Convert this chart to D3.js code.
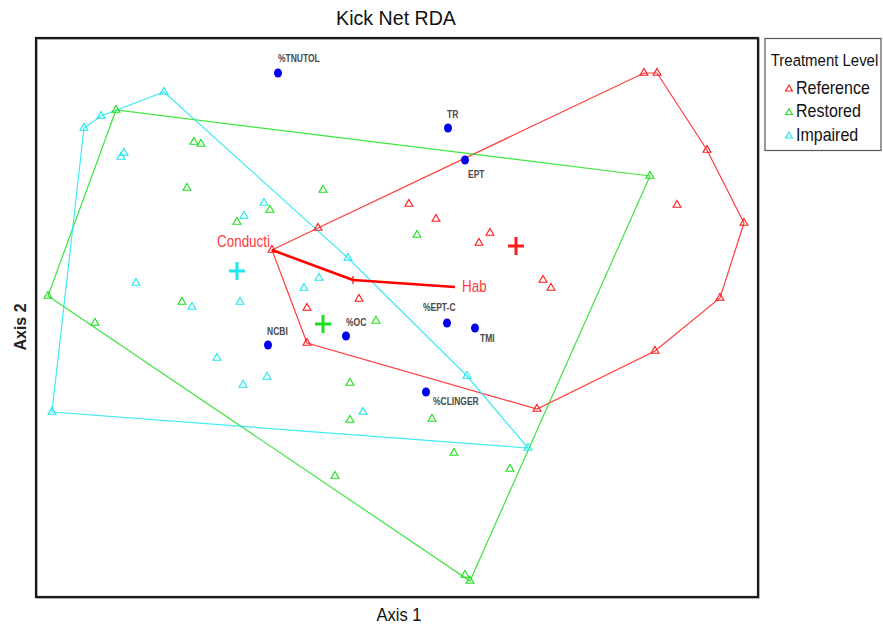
<!DOCTYPE html>
<html>
<head>
<meta charset="utf-8">
<script src="https://cdn.jsdelivr.net/npm/d3@7"></script>
<style>
  html, body { margin: 0; padding: 0; background: #fff; }
  svg { display: block; font-family: "Liberation Sans", Arial, sans-serif; }
</style>
</head>
<body>
<svg id="chart" width="883" height="630"></svg>
<script>
// Site scores on the first two RDA axes, by treatment level
const referenceX = [2.44, 2.57, 3.07, 3.44, 3.20, 2.55, 2.77, 1.37, -0.93, -1.28, -0.82, 0.09, 0.36, 0.79, 0.90, 1.43, 1.51, -0.93, -0.41];
const referenceY = [2.45, 2.45, 1.68, 0.95, 0.20, -0.33, 1.13, -0.91, -0.25, 0.68, 0.90, 1.14, 0.99, 0.75, 0.85, 0.38, 0.30, 0.10, 0.19];

const restoredX = [-2.84, -3.52, -3.05, 2.50, 0.65, 0.70, -2.06, -1.99, -2.13, -0.77, -1.63, -1.30, 0.17, -2.18, -0.24, -0.50, -0.50, 0.32, 0.54, 1.10, -0.65];
const restoredY = [2.08, 0.22, -0.05, 1.42, -2.57, -2.63, 1.76, 1.74, 1.30, 1.28, 0.96, 1.08, 0.83, 0.16, -0.03, -0.65, -1.02, -1.01, -1.35, -1.51, -1.58];

const impairedX = [-2.36, -2.99, -3.16, -3.48, 1.28, 0.67, -2.76, -2.79, -1.36, -1.56, -0.52, -0.81, -0.96, -1.60, -2.64, -2.08, -1.83, -1.33, -1.57, -0.37];
const impairedY = [2.26, 2.02, 1.90, -0.94, -1.30, -0.58, 1.65, 1.61, 1.15, 1.02, 0.60, 0.40, 0.30, 0.16, 0.35, 0.11, -0.40, -0.59, -0.67, -0.94];

// Group centroids
const groupNames = ["Reference", "Restored", "Impaired"];
const centroidX = [1.16, -0.77, -1.63];
const centroidY = [0.72, -0.06, 0.47];

// Metric (species) scores
const metricNames = ["%TNUTOL", "TR", "EPT", "%EPT-C", "TMI", "%OC", "NCBI", "%CLINGER"];
const metricX = [-1.22, 0.48, 0.65, 0.47, 0.75, -0.54, -1.32, 0.26];
const metricY = [2.45, 1.90, 1.58, -0.05, -0.10, -0.18, -0.27, -0.74];

// Fitted environmental vectors
const envNames = ["Conducti", "Hab"];
const envOrigin = [-0.47, 0.38];
const envX = [-1.28, 0.55];
const envY = [0.68, 0.31];

const colors = { Reference: "#ff1a1a", Restored: "#1de01d", Impaired: "#1ee8ee" };

const svg = d3.select("#chart");
const plot = { left: 36, right: 758, top: 38, bottom: 597 };

const x = d3.scaleLinear().domain([-3.64, 3.58]).range([plot.left, plot.right]);
const y = d3.scaleLinear().domain([-2.79, 2.80]).range([plot.bottom, plot.top]);

// Narrow text helper (horizontally condensed lettering)
function label(g, px, py, txt, opts) {
  const sx = opts.sx || 0.86;
  return g.append("text")
    .attr("transform", `translate(${px},${py}) scale(${sx},1)`)
    .attr("text-anchor", opts.anchor || "start")
    .attr("dominant-baseline", "central")
    .attr("font-size", opts.size)
    .attr("font-weight", opts.weight || "normal")
    .attr("fill", opts.fill || "#000")
    .text(txt);
}

// Title and axis titles
label(svg, 396, 18, "Kick Net RDA", { anchor: "middle", size: 20, sx: 0.98, fill: "#111" });
label(svg, 399, 615, "Axis 1", { anchor: "middle", size: 18, sx: 0.92, fill: "#111" });
svg.append("text")
  .attr("transform", "translate(20,327) rotate(-90)")
  .attr("text-anchor", "middle").attr("dominant-baseline", "central")
  .attr("font-size", 16).attr("font-weight", "bold").attr("fill", "#222")
  .text("Axis 2");

const groups = [
  { name: "Reference", xs: referenceX, ys: referenceY },
  { name: "Restored", xs: restoredX, ys: restoredY },
  { name: "Impaired", xs: impairedX, ys: impairedY }
];

const g = svg.append("g");

// Convex hulls around each group
groups.forEach(grp => {
  const pts = grp.xs.map((v, i) => [x(v), y(grp.ys[i])]);
  const hull = d3.polygonHull(pts);
  g.append("path")
    .attr("d", "M" + hull.join("L") + "Z")
    .attr("fill", "none")
    .attr("stroke", colors[grp.name])
    .attr("stroke-width", 1.2)
    .attr("stroke-opacity", 0.85);
});

// Site triangles
const tri = d3.symbol(d3.symbolTriangle, 27);
groups.forEach(grp => {
  g.selectAll(null).data(grp.xs.map((v, i) => [v, grp.ys[i]])).join("path")
    .attr("d", tri)
    .attr("transform", d => `translate(${x(d[0])},${y(d[1])})`)
    .attr("fill", "none")
    .attr("stroke", colors[grp.name])
    .attr("stroke-width", 1.1);
});

// Environmental vectors
envNames.forEach((n, i) => {
  g.append("line")
    .attr("x1", x(envOrigin[0])).attr("y1", y(envOrigin[1]))
    .attr("x2", x(envX[i])).attr("y2", y(envY[i]))
    .attr("stroke", "#ff0000").attr("stroke-width", 2.6);
});
g.append("line")
  .attr("x1", x(envOrigin[0])).attr("x2", x(envOrigin[0]))
  .attr("y1", y(envOrigin[1]) - 4).attr("y2", y(envOrigin[1]) + 4)
  .attr("stroke", "#ff0000").attr("stroke-width", 1.2);
label(g, x(envX[0]) - 2, y(envY[0]) - 8, envNames[0], { anchor: "end", size: 16, sx: 0.84, fill: "#ff3a3a" });
label(g, x(envX[1]) + 7, y(envY[1]), envNames[1], { anchor: "start", size: 16, sx: 0.84, fill: "#ff3a3a" });

// Group centroids
groupNames.forEach((n, i) => {
  const cx = x(centroidX[i]), cy = y(centroidY[i]);
  g.append("path")
    .attr("d", `M${cx - 8},${cy}H${cx + 8}M${cx},${cy - 9}V${cy + 9}`)
    .attr("stroke", colors[n]).attr("stroke-width", 3).attr("fill", "none");
});

// Metric points and labels
const metricLabelOffset = {
  "%TNUTOL": [0, -14, "start"], "TR": [-1, -13, "start"], "EPT": [3, 15, "start"],
  "%EPT-C": [-24, -15, "start"], "TMI": [5, 11, "start"], "%OC": [0, -13, "start"],
  "NCBI": [-1, -13, "start"], "%CLINGER": [7, 10, "start"]
};
metricNames.forEach((n, i) => {
  const px = x(metricX[i]), py = y(metricY[i]);
  g.append("ellipse").attr("cx", px).attr("cy", py).attr("rx", 4).attr("ry", 4.5).attr("fill", "#0000ee");
  const o = metricLabelOffset[n];
  label(g, px + o[0], py + o[1], n, { anchor: o[2], size: 10, sx: 0.85, weight: "bold", fill: "#4a4a4a" });
});

// Plot frame
svg.append("rect")
  .attr("x", plot.left + 1).attr("y", plot.top + 1)
  .attr("width", plot.right - plot.left).attr("height", plot.bottom - plot.top)
  .attr("fill", "none").attr("stroke", "#aaa").attr("stroke-width", 1.5);
svg.append("rect")
  .attr("x", plot.left).attr("y", plot.top)
  .attr("width", plot.right - plot.left).attr("height", plot.bottom - plot.top)
  .attr("fill", "none").attr("stroke", "#1a1a1a").attr("stroke-width", 2.2);

// Legend
const lg = svg.append("g");
lg.append("rect").attr("x", 765).attr("y", 38.5).attr("width", 116).attr("height", 112)
  .attr("fill", "#fff").attr("stroke", "#555").attr("stroke-width", 1.2);
label(lg, 824.5, 60, "Treatment Level", { anchor: "middle", size: 17, sx: 0.88, fill: "#111" });
groupNames.forEach((n, i) => {
  const ly = 88 + i * 23.5;
  lg.append("path").attr("d", d3.symbol(d3.symbolTriangle, 20))
    .attr("transform", `translate(789,${ly + 1})`)
    .attr("fill", "none").attr("stroke", colors[n]).attr("stroke-width", 1.1);
  label(lg, 796, ly, n, { anchor: "start", size: 18, sx: 0.89, fill: "#111" });
});
</script>
</body>
</html>
